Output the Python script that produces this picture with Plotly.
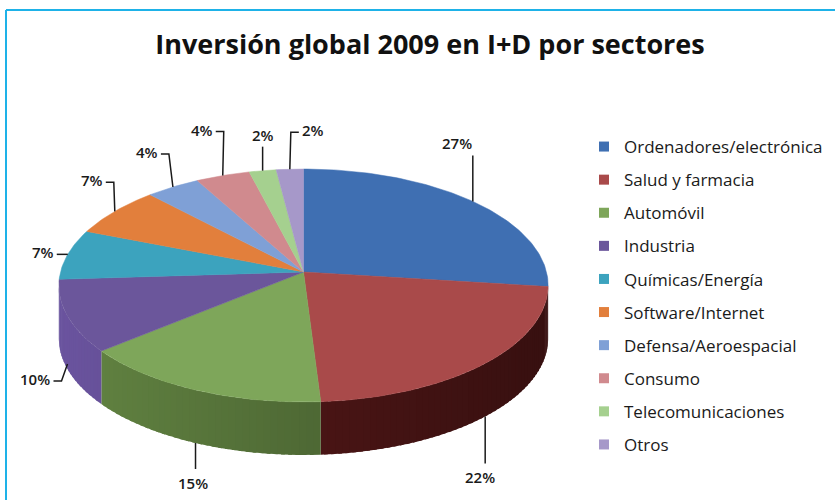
import numpy as np
import plotly.graph_objects as go

# ---------------- data ----------------
sectors = ["Ordenadores/electrónica", "Salud y farmacia", "Automóvil", "Industria",
           "Químicas/Energía", "Software/Internet", "Defensa/Aeroespacial", "Consumo",
           "Telecomunicaciones", "Otros"]
values = [27, 22, 15, 10, 7, 7, 4, 4, 2, 2]

# ---------------- style ----------------
top_colors = ["#3f6fb2", "#a94a4a", "#7ea65a", "#6b569b", "#3ca3be",
              "#e27f3c", "#7fa0d6", "#d08a8e", "#a5d08f", "#a698c9"]
side_colors = ["#2c4f80", "#4a1515", "#4f6a35", "#55437f", "#2b7d93",
               "#b0622b", "#6080b0", "#a86a6e", "#80a86c", "#8070a0"]
label_dx = [-16, -5, -3, -33, -25, -23, -26, -21, 0, 23]
label_dy = [-58, 61, 40, 15, -2, -31, -35, -46, -36, -39]
leader_side = ["b", "t", "t", "r", "r", "r", "r", "r", "b", "l"]
anchor_drop = [0, 1, 1, 0.9, 0, 0, 0, 0, 0, 0]

W, H = 835, 500
CX, CY = 303.5, 272.0      # projected pie centre
A, B, K = 243.0, 114.9, 0.1158   # horizontal / vertical radius, perspective
DEPTH = 53.0
SIL = np.degrees(np.arccos(-K))  # silhouette angles (front side visible)


def rim(t_deg):
    t = np.radians(np.asarray(t_deg, dtype=float))
    den = 1 + K * np.cos(t)
    return CX + A * np.sin(t) / den, CY - B * np.cos(t) / den


def shade(hex_color, f):
    h = hex_color.lstrip("#")
    r, g, b = (int(h[i:i + 2], 16) for i in (0, 2, 4))
    r, g, b = (max(0, min(255, int(round(c * f)))) for c in (r, g, b))
    return f"#{r:02x}{g:02x}{b:02x}"


fig = go.Figure()

total = float(sum(values))
bounds = np.concatenate([[0], np.cumsum(values)]) / total * 360.0

# side faces (front part of the cylinder), thin overlapping strips for a soft gradient
for i, v in enumerate(values):
    s, e = bounds[i], bounds[i + 1]
    lo, hi = max(s, SIL), min(e, 360 - SIL)
    if hi <= lo:
        continue
    n = max(1, int(np.ceil((hi - lo) / 1.5)))
    edges = np.linspace(lo, hi, n + 1)
    for j in range(n):
        t1 = min(edges[j + 1] + 0.8, hi)
        ts = np.linspace(edges[j], t1, 3)
        x, y = rim(ts)
        xm, _ = rim([(edges[j] + edges[j + 1]) / 2])
        f = 1 + 0.25 * (CX - xm[0]) / A
        col = shade(side_colors[i], f)
        px = np.concatenate([x, x[::-1]])
        py = np.concatenate([y, (y + DEPTH)[::-1]])
        fig.add_trace(go.Scatter(x=px, y=py, mode="lines", fill="toself",
                                 fillcolor=col, line=dict(width=0),
                                 hoverinfo="skip", showlegend=False,
                                 legendgroup=sectors[i]))

# top faces
for i, v in enumerate(values):
    s, e = bounds[i], bounds[i + 1]
    ts = np.linspace(s, e, max(3, int((e - s) / 1.0) + 2))
    x, y = rim(ts)
    px = np.concatenate([[CX], x, [CX]])
    py = np.concatenate([[CY], y, [CY]])
    fig.add_trace(go.Scatter(x=px, y=py, mode="lines", fill="toself",
                             fillcolor=top_colors[i],
                             line=dict(color=top_colors[i], width=0.5),
                             hoverinfo="text", text=f"{sectors[i]}: {v}%",
                             showlegend=False, legendgroup=sectors[i]))

# legend entries
for i, name in enumerate(sectors):
    fig.add_trace(go.Scatter(x=[None], y=[None], mode="markers", name=name,
                             marker=dict(symbol="square", size=10, color=top_colors[i]),
                             legendgroup=name, showlegend=True))

# labels + leader lines
lx, ly = [], []
for i, v in enumerate(values):
    mid = (bounds[i] + bounds[i + 1]) / 2
    ax_, ay_ = rim([mid])
    ax_, ay_ = ax_[0], ay_[0] + anchor_drop[i] * DEPTH
    tx, ty = ax_ + label_dx[i], ay_ + label_dy[i]
    txt = f"{v}%"
    hw = 5 * len(txt) + 4
    side = leader_side[i]
    if side == "r":
        pts = [(tx + hw, ty + 2), (tx + hw + 8, ty + 2), (ax_, ay_)]
    elif side == "l":
        pts = [(tx - hw, ty + 2), (tx - hw - 8, ty + 2), (ax_, ay_)]
    elif side == "b":
        pts = [(ax_, ty + 12), (ax_, ay_)]
    else:
        pts = [(ax_, ty - 14), (ax_, ay_)]
    for p in pts:
        lx.append(p[0]); ly.append(p[1])
    lx.append(None); ly.append(None)
    fig.add_annotation(x=tx, y=ty, text=txt, showarrow=False,
                       font=dict(family="Open Sans", size=15, weight=600, color="#1a1a1a"),
                       xanchor="center", yanchor="middle")

fig.add_trace(go.Scatter(x=lx, y=ly, mode="lines",
                         line=dict(color="#1a1a1a", width=1.5),
                         hoverinfo="skip", showlegend=False))

# frame lines (top and left)
fig.add_shape(type="line", xref="x", yref="y", x0=6, y0=10, x1=W, y1=10,
              line=dict(color="#1eb2e8", width=2))
fig.add_shape(type="line", xref="x", yref="y", x0=6, y0=10, x1=6, y1=H,
              line=dict(color="#1eb2e8", width=2))

fig.update_layout(
    width=W, height=H,
    margin=dict(l=0, r=0, t=0, b=0, pad=0, autoexpand=False),
    paper_bgcolor="white", plot_bgcolor="white",
    title=dict(text="<b>Inversión global 2009 en I+D por sectores</b>",
               x=430 / W, xanchor="center", y=1 - 45 / H, yanchor="middle",
               yref="container",
               font=dict(family="Open Sans", size=27, color="#111111")),
    xaxis=dict(range=[0, W], visible=False, fixedrange=True),
    yaxis=dict(range=[H, 0], visible=False, fixedrange=True),
    showlegend=True,
    legend=dict(x=584 / W, y=1 - 129 / H, xanchor="left", yanchor="top",
                font=dict(family="Open Sans", size=17, color="#1a1a1a"),
                tracegroupgap=8, bgcolor="rgba(0,0,0,0)",
                itemclick=False, itemdoubleclick=False),
    hovermode="closest",
)

fig.write_html("out.html", config={"displayModeBar": False},
               post_script="document.body.style.margin='0';document.body.style.overflow='hidden';")
